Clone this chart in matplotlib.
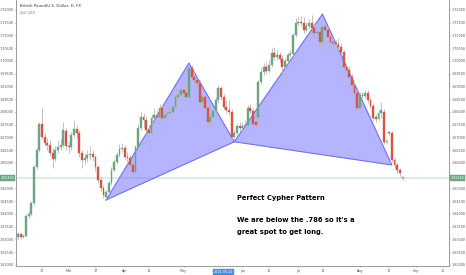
import numpy as np
import pandas as pd
import matplotlib
matplotlib.use("Agg")
import matplotlib.pyplot as plt

# GBP/USD daily candles, 2014-02-04 .. 2014-08-25
opens = [1.6310, 1.6322, 1.6310, 1.6314, 1.6393, 1.6400, 1.6443, 1.6585, 1.6651, 1.6753,
         1.6702, 1.6679, 1.6671, 1.6639, 1.6616, 1.6651, 1.6663, 1.6671, 1.6726, 1.6667,
         1.6663, 1.6710, 1.6734, 1.6718, 1.6639, 1.6612, 1.6620, 1.6632, 1.6636, 1.6624,
         1.6585, 1.6534, 1.6502, 1.6467, 1.6487, 1.6522, 1.6573, 1.6604, 1.6632, 1.6655,
         1.6659, 1.6624, 1.6620, 1.6592, 1.6565, 1.6663, 1.6737, 1.6781, 1.6769, 1.6730,
         1.6718, 1.6777, 1.6788, 1.6781, 1.6816, 1.6777, 1.6788, 1.6796, 1.6800, 1.6820,
         1.6859, 1.6867, 1.6886, 1.6875, 1.6859, 1.6973, 1.6937, 1.6926, 1.6914, 1.6839,
         1.6859, 1.6816, 1.6761, 1.6781, 1.6804, 1.6847, 1.6894, 1.6859, 1.6820, 1.6808,
         1.6800, 1.6702, 1.6718, 1.6745, 1.6737, 1.6745, 1.6749, 1.6816, 1.6804, 1.6761,
         1.6781, 1.6918, 1.6957, 1.6977, 1.6961, 1.6984, 1.7031, 1.7016, 1.7024, 1.7008,
         1.6977, 1.7000, 1.7024, 1.7028, 1.7102, 1.7149, 1.7153, 1.7149, 1.7122, 1.7137,
         1.7149, 1.7129, 1.7110, 1.7114, 1.7075, 1.7133, 1.7122, 1.7094, 1.7075, 1.7071,
         1.7067, 1.7055, 1.7035, 1.6977, 1.6965, 1.6937, 1.6906, 1.6875, 1.6816, 1.6867,
         1.6863, 1.6875, 1.6847, 1.6824, 1.6781, 1.6773, 1.6796, 1.6800, 1.6683, 1.6722,
         1.6718, 1.6612, 1.6592, 1.6573, 1.6545]
highs = [1.6330, 1.6326, 1.6322, 1.6400, 1.6412, 1.6451, 1.6592, 1.6659, 1.6761, 1.6816,
         1.6718, 1.6698, 1.6690, 1.6659, 1.6667, 1.6690, 1.6694, 1.6761, 1.6737, 1.6683,
         1.6722, 1.6769, 1.6749, 1.6730, 1.6651, 1.6636, 1.6651, 1.6667, 1.6651, 1.6632,
         1.6592, 1.6545, 1.6514, 1.6494, 1.6534, 1.6585, 1.6616, 1.6643, 1.6675, 1.6679,
         1.6671, 1.6643, 1.6632, 1.6604, 1.6671, 1.6753, 1.6800, 1.6796, 1.6785, 1.6753,
         1.6792, 1.6816, 1.6808, 1.6832, 1.6828, 1.6804, 1.6816, 1.6816, 1.6832, 1.6879,
         1.6883, 1.6902, 1.6898, 1.6894, 1.6988, 1.6984, 1.6957, 1.6941, 1.6926, 1.6871,
         1.6867, 1.6828, 1.6792, 1.6816, 1.6859, 1.6906, 1.6902, 1.6871, 1.6847, 1.6847,
         1.6812, 1.6730, 1.6757, 1.6761, 1.6761, 1.6769, 1.6828, 1.6832, 1.6816, 1.6777,
         1.6926, 1.6973, 1.6992, 1.6996, 1.7004, 1.7051, 1.7055, 1.7043, 1.7035, 1.7024,
         1.7012, 1.7035, 1.7043, 1.7110, 1.7169, 1.7173, 1.7177, 1.7173, 1.7153, 1.7165,
         1.7180, 1.7145, 1.7129, 1.7129, 1.7141, 1.7145, 1.7133, 1.7106, 1.7090, 1.7082,
         1.7090, 1.7071, 1.7043, 1.6988, 1.6981, 1.6949, 1.6918, 1.6886, 1.6879, 1.6879,
         1.6886, 1.6886, 1.6859, 1.6835, 1.6792, 1.6808, 1.6839, 1.6812, 1.6694, 1.6726,
         1.6726, 1.6624, 1.6604, 1.6581, 1.6549]
lows = [1.6298, 1.6302, 1.6306, 1.6310, 1.6385, 1.6393, 1.6436, 1.6577, 1.6643, 1.6694,
        1.6667, 1.6651, 1.6628, 1.6581, 1.6608, 1.6639, 1.6651, 1.6663, 1.6651, 1.6639,
        1.6651, 1.6702, 1.6698, 1.6624, 1.6581, 1.6596, 1.6604, 1.6612, 1.6608, 1.6569,
        1.6522, 1.6490, 1.6463, 1.6455, 1.6479, 1.6514, 1.6565, 1.6596, 1.6624, 1.6643,
        1.6612, 1.6604, 1.6581, 1.6541, 1.6557, 1.6655, 1.6730, 1.6737, 1.6718, 1.6651,
        1.6710, 1.6769, 1.6765, 1.6769, 1.6761, 1.6769, 1.6781, 1.6785, 1.6788, 1.6812,
        1.6851, 1.6859, 1.6863, 1.6847, 1.6851, 1.6930, 1.6914, 1.6902, 1.6828, 1.6832,
        1.6804, 1.6741, 1.6753, 1.6773, 1.6800, 1.6835, 1.6847, 1.6812, 1.6796, 1.6788,
        1.6694, 1.6686, 1.6710, 1.6726, 1.6722, 1.6730, 1.6741, 1.6792, 1.6745, 1.6737,
        1.6769, 1.6910, 1.6945, 1.6949, 1.6953, 1.6977, 1.7004, 1.7004, 1.6996, 1.6945,
        1.6969, 1.6992, 1.7016, 1.7016, 1.7094, 1.7137, 1.7137, 1.7110, 1.7114, 1.7126,
        1.7118, 1.7098, 1.7090, 1.7063, 1.7063, 1.7106, 1.7082, 1.7043, 1.7035, 1.7051,
        1.7035, 1.7024, 1.6965, 1.6957, 1.6926, 1.6894, 1.6863, 1.6808, 1.6808, 1.6855,
        1.6855, 1.6835, 1.6816, 1.6765, 1.6761, 1.6765, 1.6777, 1.6675, 1.6675, 1.6710,
        1.6604, 1.6581, 1.6561, 1.6549, 1.6534]
closes = [1.6322, 1.6310, 1.6314, 1.6393, 1.6400, 1.6443, 1.6585, 1.6651, 1.6753, 1.6702,
          1.6679, 1.6671, 1.6639, 1.6616, 1.6651, 1.6663, 1.6671, 1.6730, 1.6667, 1.6663,
          1.6710, 1.6734, 1.6718, 1.6639, 1.6612, 1.6620, 1.6632, 1.6636, 1.6624, 1.6585,
          1.6534, 1.6502, 1.6475, 1.6487, 1.6522, 1.6573, 1.6604, 1.6632, 1.6655, 1.6659,
          1.6624, 1.6620, 1.6592, 1.6565, 1.6663, 1.6737, 1.6781, 1.6769, 1.6730, 1.6718,
          1.6777, 1.6788, 1.6781, 1.6816, 1.6777, 1.6788, 1.6796, 1.6800, 1.6820, 1.6859,
          1.6867, 1.6886, 1.6875, 1.6859, 1.6973, 1.6937, 1.6926, 1.6914, 1.6839, 1.6859,
          1.6816, 1.6761, 1.6781, 1.6804, 1.6847, 1.6894, 1.6859, 1.6820, 1.6808, 1.6800,
          1.6702, 1.6718, 1.6745, 1.6737, 1.6745, 1.6749, 1.6816, 1.6804, 1.6753, 1.6749,
          1.6918, 1.6957, 1.6977, 1.6961, 1.6984, 1.7031, 1.7016, 1.7024, 1.7008, 1.6977,
          1.7000, 1.7024, 1.7028, 1.7102, 1.7149, 1.7153, 1.7149, 1.7122, 1.7137, 1.7149,
          1.7129, 1.7110, 1.7114, 1.7075, 1.7133, 1.7122, 1.7094, 1.7075, 1.7071, 1.7067,
          1.7055, 1.7035, 1.6977, 1.6965, 1.6937, 1.6906, 1.6875, 1.6816, 1.6867, 1.6863,
          1.6875, 1.6847, 1.6824, 1.6777, 1.6773, 1.6796, 1.6808, 1.6683, 1.6686, 1.6718,
          1.6612, 1.6592, 1.6573, 1.6561, 1.65402]

# cypher pattern legs (bar index, price): X-A-B and B-C-D
xab_idx = [33, 64, 81]
xab_px = [1.6455, 1.6992, 1.6683]
bcd_idx = [81, 114, 140]
bcd_px = [1.6683, 1.7184, 1.6592]

tick_dates = ["2014-02-17", "2014-03-03", "2014-03-17", "2014-04-01", "2014-04-14",
              "2014-05-01", "2014-06-02", "2014-06-16", "2014-07-01", "2014-07-14",
              "2014-08-01", "2014-08-18", "2014-09-01", "2014-09-15"]
tick_labels = ["17", "Mar", "17", "Apr", "14", "May", "Jun", "16", "Jul", "14",
               "Aug", "18", "Sep", "15"]
cursor_date = "2014-05-22"

UP = "#6ba583"
DOWN = "#d75442"

days = pd.bdate_range("2014-02-04", "2014-09-30")
o = np.array(opens)
h = np.array(highs)
l = np.array(lows)
c = np.array(closes)
x = np.arange(len(c))

W, H = 466, 275
fig = plt.figure(figsize=(W / 100, H / 100), dpi=100)
ax = fig.add_axes([16 / W, 1 - 266 / H, (449 - 16) / W, 266 / H])

# pattern fills
for px_i, px_p in [(xab_idx, xab_px), (bcd_idx, bcd_px)]:
    ax.fill(px_i, px_p, facecolor="#6b6bff", alpha=0.5, edgecolor="none", zorder=1)
    ax.plot(px_i + px_i[:1], px_p + px_p[:1], color="#6f6ff2", lw=0.8, zorder=1.5)

# last price line
ax.axhline(c[-1], color="#d5e9dc", lw=1.2, zorder=0.5)

# candles
cols = np.where(c >= o, UP, DOWN)
ax.vlines(x, l, h, color="#b8b8b8", lw=0.6, zorder=2)
ax.bar(x, np.abs(c - o), bottom=np.minimum(o, c), width=0.7, color=cols,
       edgecolor=cols, lw=0.3, zorder=3)

ax.set_xlim(-0.75, 161.4)
ax.set_ylim(1.6196, 1.7239)

# tick label hidden behind the last-price tag is left out
yt = [v for v in np.arange(1.620, 1.7201, 0.005) if abs(v - c[-1]) > 0.002]
ax.set_yticks(yt)
ax.set_yticklabels(["%.5f" % v for v in yt])
tpos = [days.get_loc(pd.Timestamp(d)) for d in tick_dates]
ax.set_xticks(tpos)
ax.set_xticklabels(tick_labels)
ax.tick_params(axis="both", labelsize=2.4, colors="#555555", length=1, width=0.4, pad=0.6)
ax.tick_params(axis="y", left=True, right=True, labelleft=True, labelright=True)
ax.tick_params(axis="x", pad=1.5)

ax.spines["top"].set_visible(False)
for s in ["left", "right", "bottom"]:
    ax.spines[s].set_color("#9a9a9a")
    ax.spines[s].set_linewidth(0.7)

# price labels on both axes
lbl = "%.5f" % c[-1]
ytr = ax.get_yaxis_transform()
for xx, ha in [(1.004, "left"), (-0.004, "right")]:
    ax.text(xx, c[-1], lbl, transform=ytr, ha=ha, va="center", fontsize=2.4,
            color="white", clip_on=False,
            bbox=dict(boxstyle="square,pad=0.25", fc=UP, ec=UP, lw=0.3))

# cursor date box
xtr = ax.get_xaxis_transform()
ax.text(days.get_loc(pd.Timestamp(cursor_date)), -0.016, cursor_date, transform=xtr,
        ha="center", va="top", fontsize=2.4, color="white", clip_on=False,
        bbox=dict(boxstyle="square,pad=0.3", fc="#4a8fd8", ec="#4a8fd8", lw=0.3))

# header
fig.text(20 / W, 1 - 6 / H, "British Pound/U.S. Dollar, D, FX", fontsize=2.8,
         color="#333333", va="center")
fig.text(20 / W, 1 - 13 / H, "Vol (20)", fontsize=2.8, color="#777777", va="center")

# note
fig.text(237 / W, 1 - 198 / H, "Perfect Cypher Pattern", fontsize=4.9,
         fontweight="bold", color="black", va="center")
fig.text(237 / W, 1 - 220 / H, "We are below the .786 so it's a", fontsize=4.9,
         fontweight="bold", color="black", va="center")
fig.text(237 / W, 1 - 232 / H, "great spot to get long.", fontsize=4.9,
         fontweight="bold", color="black", va="center")

fig.savefig("out.png", dpi=100)
